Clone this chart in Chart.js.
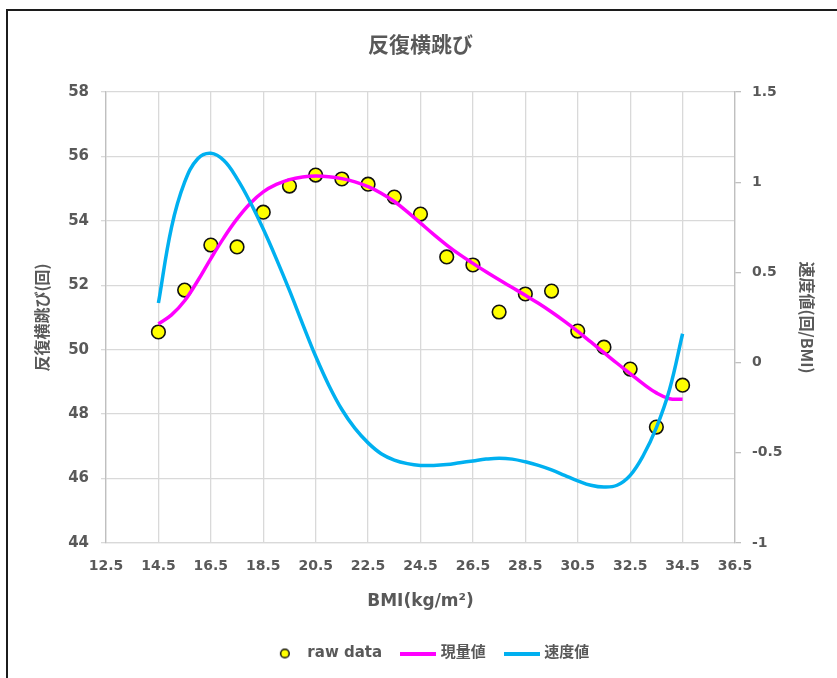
<!DOCTYPE html>
<html lang="ja">
<head>
<meta charset="utf-8">
<title>反復横跳び</title>
<script src="https://cdn.jsdelivr.net/npm/chart.js@4.4.1/dist/chart.umd.min.js"></script>
<style>
  html, body { margin: 0; padding: 0; background: #ffffff; width: 837px; height: 678px; overflow: hidden; }
  #frame { position: absolute; left: 6px; top: 9px; width: 900px; height: 760px;
           border-left: 2px solid #1c1c1c; border-top: 2px solid #1c1c1c; }
  #chart { position: absolute; left: 0; top: 0; }
</style>
</head>
<body>
<div id="frame"></div>
<canvas id="chart" width="837" height="678"></canvas>
<script>
// Measured side-step counts by BMI class
const bmiRaw = [14.5, 15.5, 16.5, 17.5, 18.5, 19.5, 20.5, 21.5, 22.5, 23.5, 24.5,
                25.5, 26.5, 27.5, 28.5, 29.5, 30.5, 31.5, 32.5, 33.5, 34.5];
const rawCounts = [50.55, 51.85, 53.25, 53.19, 54.27, 55.08, 55.42, 55.30, 55.14, 54.74, 54.21,
                   52.88, 52.63, 51.17, 51.73, 51.82, 50.58, 50.08, 49.40, 47.60, 48.90];

// Smoothed curve (current level) and its rate of change, sampled every 0.5 BMI
const bmiCurve = [14.5, 15.0, 15.5, 16.0, 16.5, 17.0, 17.5, 18.0, 18.5, 19.0, 19.5,
                  20.0, 20.5, 21.0, 21.5, 22.0, 22.5, 23.0, 23.5, 24.0, 24.5,
                  25.0, 25.5, 26.0, 26.5, 27.0, 27.5, 28.0, 28.5, 29.0, 29.5,
                  30.0, 30.5, 31.0, 31.5, 32.0, 32.5, 33.0, 33.5, 34.0, 34.5];
const levelValues = [50.80, 51.08, 51.52, 52.14, 52.83, 53.48, 54.06, 54.54, 54.90, 55.13, 55.28,
                     55.36, 55.39, 55.37, 55.31, 55.21, 55.06, 54.86, 54.60, 54.28, 53.93,
                     53.58, 53.25, 52.95, 52.68, 52.42, 52.17, 51.93, 51.69, 51.44, 51.17,
                     50.88, 50.57, 50.24, 49.91, 49.58, 49.26, 48.94, 48.66, 48.48, 48.46];
const speedValues = [0.33, 0.75, 1.00, 1.13, 1.16, 1.12, 1.02, 0.89, 0.74, 0.575, 0.40,
                     0.215, 0.035, -0.125, -0.26, -0.365, -0.445, -0.505, -0.54, -0.56, -0.57,
                     -0.57, -0.565, -0.555, -0.545, -0.535, -0.53, -0.535, -0.55, -0.57, -0.595,
                     -0.625, -0.655, -0.68, -0.69, -0.68, -0.625, -0.515, -0.36, -0.15, 0.16];

// Axis tick values
const xTicks = [12.5, 14.5, 16.5, 18.5, 20.5, 22.5, 24.5, 26.5, 28.5, 30.5, 32.5, 34.5, 36.5];
const countTicks = [44, 46, 48, 50, 52, 54, 56, 58];
const speedTicks = [-1, -0.5, 0, 0.5, 1, 1.5];

const seriesNames = ['raw data', '現量値', '速度値'];

const GRAY = '#595959';
const FAMILY = "'DejaVu Sans', 'Noto Sans CJK JP', sans-serif";
const CJK_FAMILY = "'Noto Sans CJK JP', 'DejaVu Sans', sans-serif";

const toPoints = (xs, ys) => xs.map((x, i) => ({ x: x, y: ys[i] }));
const fixedTicks = arr => scale => { scale.ticks = arr.map(v => ({ value: v })); };

// Legend markers
function dotMark() {
  const c = document.createElement('canvas');
  c.width = 12; c.height = 12;
  const g = c.getContext('2d');
  g.beginPath();
  g.arc(6, 6, 4.3, 0, Math.PI * 2);
  g.fillStyle = '#ffff00';
  g.fill();
  g.lineWidth = 1.5;
  g.strokeStyle = '#111111';
  g.stroke();
  return c;
}
function lineMark(color) {
  const c = document.createElement('canvas');
  c.width = 36; c.height = 4;
  const g = c.getContext('2d');
  g.fillStyle = color;
  g.fillRect(0, 0, 36, 4);
  return c;
}
const legendMarks = [dotMark(), lineMark('#ff00ff'), lineMark('#00b0f0')];

new Chart(document.getElementById('chart'), {
  type: 'scatter',
  data: {
    datasets: [
      {
        label: seriesNames[0],
        data: toPoints(bmiRaw, rawCounts),
        yAxisID: 'y',
        pointRadius: 6.8,
        pointBorderWidth: 1.6,
        backgroundColor: '#ffff00',
        borderColor: '#111111',
        order: 3
      },
      {
        label: seriesNames[1],
        data: toPoints(bmiCurve, levelValues),
        yAxisID: 'y',
        showLine: true,
        borderColor: '#ff00ff',
        backgroundColor: '#ff00ff',
        borderWidth: 3.5,
        pointRadius: 0,
        tension: 0.4,
        fill: false,
        order: 2
      },
      {
        label: seriesNames[2],
        data: toPoints(bmiCurve, speedValues),
        yAxisID: 'y1',
        showLine: true,
        borderColor: '#00b0f0',
        backgroundColor: '#00b0f0',
        borderWidth: 3.5,
        pointRadius: 0,
        tension: 0.4,
        fill: false,
        order: 1
      }
    ]
  },
  options: {
    responsive: false,
    animation: false,
    events: [],
    layout: { padding: { left: 22, right: 0, top: 12, bottom: 7 } },
    plugins: {
      tooltip: { enabled: false },
      title: {
        display: true,
        text: '反復横跳び',
        color: GRAY,
        fullSize: false,
        font: { family: CJK_FAMILY, size: 21, weight: 'bold' },
        padding: { top: 19.4, bottom: 35.4 }
      },
      legend: {
        display: true,
        position: 'bottom',
        labels: {
          usePointStyle: true,
          pointStyleWidth: 30,
          padding: 21,
          color: GRAY,
          font: { family: FAMILY, size: 15, weight: 'bold' },
          generateLabels(chart) {
            const items = Chart.defaults.plugins.legend.labels.generateLabels(chart);
            items.sort((a, b) => a.datasetIndex - b.datasetIndex);
            items.forEach(it => { it.pointStyle = legendMarks[it.datasetIndex]; });
            return items;
          }
        }
      }
    },
    scales: {
      x: {
        type: 'linear',
        position: 'bottom',
        min: xTicks[0],
        max: xTicks[xTicks.length - 1],
        afterBuildTicks: fixedTicks(xTicks),
        afterFit(scale) { scale.height = 82; },
        grid: { color: '#d9d9d9', lineWidth: 1.3, drawTicks: false },
        border: { color: '#d9d9d9', width: 1.3 },
        ticks: {
          color: GRAY,
          font: { family: FAMILY, size: 14, weight: 'bold' },
          padding: 15,
          maxRotation: 0,
          autoSkip: false,
          callback: v => Number(v).toFixed(1)
        },
        title: {
          display: true,
          text: 'BMI(kg/m²)',
          color: GRAY,
          font: { family: FAMILY, size: 17, weight: 'bold' },
          padding: { top: 0, bottom: 13 }
        }
      },
      y: {
        type: 'linear',
        position: 'left',
        min: countTicks[0],
        max: countTicks[countTicks.length - 1],
        afterBuildTicks: fixedTicks(countTicks),
        afterFit(scale) { scale.width = 84; },
        grid: { color: '#d9d9d9', lineWidth: 1.3, tickLength: 5 },
        border: { color: '#bfbfbf', width: 1.3 },
        ticks: {
          color: GRAY,
          font: { family: FAMILY, size: 15, weight: 'bold' },
          padding: 12,
          autoSkip: false,
          callback: v => String(v)
        },
        title: {
          display: true,
          text: '反復横跳び(回)',
          color: GRAY,
          font: { family: CJK_FAMILY, size: 16, weight: 'bold' },
          padding: { top: 10, bottom: 0 }
        }
      },
      y1: {
        type: 'linear',
        position: 'right',
        min: speedTicks[0],
        max: speedTicks[speedTicks.length - 1],
        afterBuildTicks: fixedTicks(speedTicks),
        afterFit(scale) { scale.width = 102; },
        grid: { drawOnChartArea: false, color: '#bfbfbf', lineWidth: 1.3, tickLength: 6 },
        border: { color: '#bfbfbf', width: 1.3 },
        ticks: {
          color: GRAY,
          font: { family: FAMILY, size: 14, weight: 'bold' },
          padding: 11,
          autoSkip: false,
          callback: v => String(v)
        },
        title: {
          display: true,
          text: '速度値(回/BMI)',
          color: GRAY,
          font: { family: CJK_FAMILY, size: 16, weight: 'bold' },
          padding: { top: 20, bottom: 0 }
        }
      }
    }
  }
});
</script>
</body>
</html>
